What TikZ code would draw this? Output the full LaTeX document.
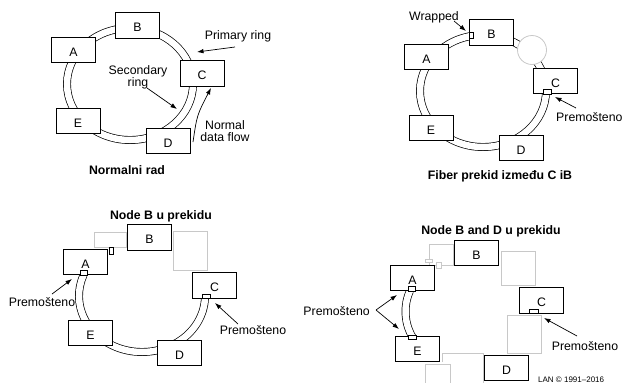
\documentclass[tikz,border=0pt]{standalone}
\usepackage{fontspec}
\setmainfont{Liberation Sans}
\usetikzlibrary{arrows.meta}
\definecolor{wiregray}{RGB}{200,200,200}
\newcommand\lbl{\fontsize{12.3}{12}\selectfont}
\begin{document}
\begin{tikzpicture}[x=1pt,y=-1pt,
  box/.style={draw, fill=white, line width=0.8pt, minimum width=44pt, minimum height=25.5pt, inner sep=0pt, font=\lbl, text height=12.5pt, text depth=0pt},
  ring/.style={double, double distance=6.5pt, line width=0.7pt},
  wire/.style={draw=wiregray, line width=0.8pt},
  wrap/.style={draw, fill=white, line width=0.8pt},
  lab/.style={inner sep=0pt, font=\lbl, align=center},
  ttl/.style={inner sep=0pt, font=\lbl\bfseries},
  arr/.style={-{Latex[length=6.5pt,width=4.6pt]}, line width=0.7pt}]
\useasboundingbox (0,0) rectangle (622,383);

% ---------------- Panel 1: Normalni rad ----------------
\draw[ring] (130,84) ellipse[x radius=63, y radius=56];
\node[box] (A1) at (73.5,50) {A};
\node[box] (B1) at (137.5,25.5) {B};
\node[box] (C1) at (202,73.5) {C};
\node[box] (E1) at (78,121) {E};
\node[box] (D1) at (168,141) {D};
\node[lab] (prim) at (238,36) {Primary ring};
\node[lab] (sec) at (138,77.5) {Secondary\\ring};
\node[lab] (ndf) at (225,131.5) {Normal\\data flow};
\node[ttl] (t1) at (127,170) {Normalni rad};
\coordinate (p1s) at (235,47); \coordinate (p1e) at (197,52);
\coordinate (s1s) at (147,88); \coordinate (s1e) at (177,109);
\coordinate (n1s) at (193,142); \coordinate (n1c) at (197,115); \coordinate (n1e) at (211,88);
\draw[arr] (p1s) -- (p1e);
\draw[arr] (s1s) -- (s1e);
\draw[arr] (n1s) .. controls (n1c) .. (n1e);

% ---------------- Panel 2: Fiber prekid ----------------
\draw[ring] (483,91) ellipse[x radius=63, y radius=56];
\node[draw=wiregray, fill=white, circle, minimum size=29pt, inner sep=0pt, line width=0.8pt] (brk) at (532,50) {};
\node[box] (A2) at (426.5,57) {A};
\node[box] (B2) at (491.5,32.5) {B};
\node[box] (C2) at (555.5,81) {C};
\node[box] (E2) at (431,128) {E};
\node[box] (D2) at (521,148) {D};
\draw[wrap] (469,32) rectangle (473.5,38);
\draw[wrap] (543,89) rectangle (551,94);
\node[lab] (wr) at (434,17) {Wrapped};
\node[lab, anchor=west] (pr2) at (556,117) {Premošteno};
\node[ttl] (t2) at (500,176) {Fiber prekid između C iB};
\coordinate (w2s) at (454,21); \coordinate (w2e) at (466,31);
\coordinate (r2s) at (576,108); \coordinate (r2e) at (555,97);
\draw[arr] (w2s) -- (w2e);
\draw[arr] (r2s) -- (r2e);

% ---------------- Panel 3: Node B u prekidu ----------------
\draw[wire] (94,232) rectangle (126,247);
\draw[wire] (173,231) rectangle (207,270);
\draw[ring] (142,296) ++(202:63 and 56) arc[start angle=202, end angle=2, x radius=63, y radius=56];
\node[box] (A3) at (85.5,262) {A};
\node[box] (B3) at (149.5,237.5) {B};
\node[box] (C3) at (214.5,285.5) {C};
\node[box] (E3) at (90.5,333) {E};
\node[box] (D3) at (179.5,353) {D};
\draw[wrap] (80,270) rectangle (87,275);
\draw[wrap] (202,294) rectangle (210,298.5);
\draw[wrap] (109,247) rectangle (113,254);
\node[ttl] (t3) at (161,216) {Node B u prekidu};
\node[lab] (pl3) at (42,302) {Premošteno};
\node[lab] (pr3) at (253,330) {Premošteno};
\coordinate (l3s) at (52,294); \coordinate (l3e) at (72,279);
\coordinate (r3s) at (238,324); \coordinate (r3e) at (215,303);
\draw[arr] (l3s) -- (l3e);
\draw[arr] (r3s) -- (r3e);

% ---------------- Panel 4: Node B and D u prekidu ----------------
\draw[wire] (429,244) rectangle (453,265);
\draw[wire] (501,251) rectangle (535,285);
\draw[wire] (507,315) rectangle (541,353);
\draw[wire] (442,362) -- (442,353) -- (483,353) -- (483,384);
\draw[wire] (425,384) -- (425,364) -- (450,364) -- (450,384);
\draw[ring] (468.5,311.5) ++(201.5:63 and 56) arc[start angle=201.5, end angle=153, x radius=63, y radius=56];
\node[box] (A4) at (412.5,278) {A};
\node[box] (B4) at (476.5,253) {B};
\node[box] (C4) at (541.5,300.5) {C};
\node[box] (E4) at (417.5,349) {E};
\node[box] (D4) at (506.5,368) {D};
\draw[wire, fill=white] (425,259) rectangle (432,262);
\draw[wire, fill=white] (436,262) rectangle (441,268);
\draw[wrap] (408,286) rectangle (415,291);
\draw[wrap] (408,335.5) rectangle (416,339);
\draw[wrap] (529,309) rectangle (538,313.5);
\node[ttl] (t4) at (491,231) {Node B and D u prekidu};
\node[lab, anchor=east] (pl4) at (370,311) {Premošteno};
\node[lab] (pr4) at (585,346) {Premošteno};
\node[inner sep=0pt, anchor=north west, font=\fontsize{8}{9}\selectfont] (ft) at (538,376.5) {LAN © 1991–2016};
\coordinate (l4s) at (376,310); \coordinate (l4a) at (397,295); \coordinate (l4b) at (399,329);
\coordinate (r4s) at (577,336); \coordinate (r4e) at (544,318);
\draw[arr] (l4s) -- (l4a);
\draw[arr] (l4s) -- (l4b);
\draw[arr] (r4s) -- (r4e);
\end{tikzpicture}
\end{document}
